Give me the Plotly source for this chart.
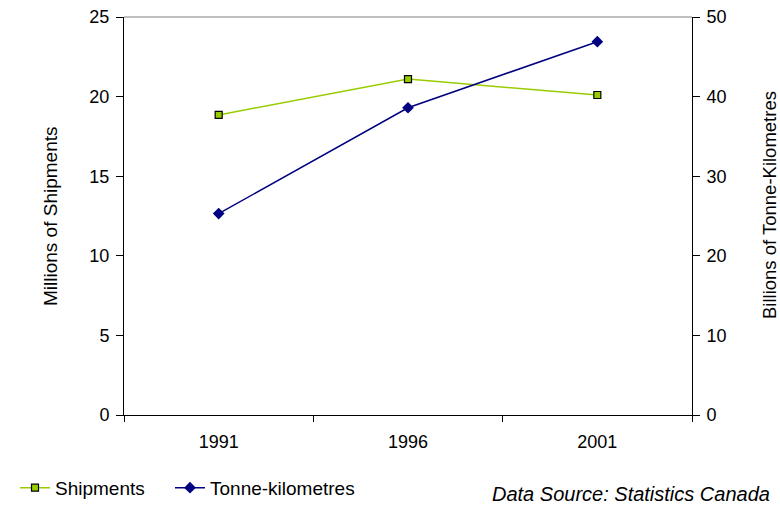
import plotly.graph_objects as go

years = ["1991", "1996", "2001"]
shipments = [18.85, 21.1, 20.1]
tonne_km = [25.3, 38.6, 46.9]

font = "Liberation Sans, Arial, sans-serif"

fig = go.Figure()
fig.add_trace(go.Scatter(
    x=years, y=shipments, name="Shipments", mode="lines+markers",
    line=dict(color="#99CC00", width=1.5),
    marker=dict(symbol="square", size=7, color="#99CC00", line=dict(color="black", width=1.2)),
    yaxis="y", legend="legend"))
fig.add_trace(go.Scatter(
    x=years, y=tonne_km, name="Tonne-kilometres", mode="lines+markers",
    line=dict(color="#000080", width=1.5),
    marker=dict(symbol="diamond", size=9, color="#000080"),
    yaxis="y2", legend="legend2"))

leg_common = dict(orientation="h", xref="container", yref="container",
                  y=0.034, xanchor="left", yanchor="middle",
                  font=dict(size=19), itemwidth=30, bgcolor="rgba(0,0,0,0)")

fig.update_layout(
    width=780, height=505,
    margin=dict(l=124, r=88, t=17, b=90, autoexpand=False),
    paper_bgcolor="white", plot_bgcolor="white",
    font=dict(family=font, size=18, color="black"),
    showlegend=True,
    legend=dict(x=15 / 780, **leg_common),
    legend2=dict(x=170 / 780, **leg_common),
    xaxis=dict(type="category", tickson="boundaries", ticks="outside", ticklen=6,
               tickcolor="black", showline=True, linecolor="black", linewidth=1,
               showgrid=False, range=[-0.5, 2.5], tickfont=dict(size=18),
               ticklabelstandoff=10),
    yaxis=dict(range=[0, 25], dtick=5, ticks="outside", ticklen=7, tickcolor="black",
               showline=True, linecolor="black", linewidth=1, showgrid=False,
               zeroline=False, tickfont=dict(size=18), automargin=False,
               ticklabelstandoff=3),
    yaxis2=dict(range=[0, 50], dtick=10, ticks="outside", ticklen=7, tickcolor="black",
                showline=True, linecolor="black", linewidth=1, showgrid=False,
                zeroline=False, overlaying="y", side="right", tickfont=dict(size=18),
                automargin=False, ticklabelstandoff=3),
    shapes=[dict(type="line", xref="paper", yref="paper", x0=0, x1=1, y0=1, y1=1,
                 line=dict(color="#808080", width=1))],
    annotations=[
        dict(text="Millions of Shipments", xref="paper", yref="paper",
             x=(50 - 124) / 568, y=0.5, textangle=-90, xanchor="center", yanchor="middle",
             showarrow=False, font=dict(size=19)),
        dict(text="Billions of Tonne-Kilometres", xref="paper", yref="paper",
             x=(769 - 124) / 568, y=(415 - 205) / 398, textangle=-90, xanchor="center",
             yanchor="middle", showarrow=False, font=dict(size=18.5)),
        dict(text="<i>Data Source: Statistics Canada</i>", xref="paper", yref="paper",
             x=(772 - 124) / 568, y=-0.198, xanchor="right", yanchor="middle",
             showarrow=False, font=dict(size=20)),
    ],
)

fig.write_html("out.html", config={"displayModeBar": False},
               post_script="document.body.style.margin='0';document.body.style.padding='0';")
